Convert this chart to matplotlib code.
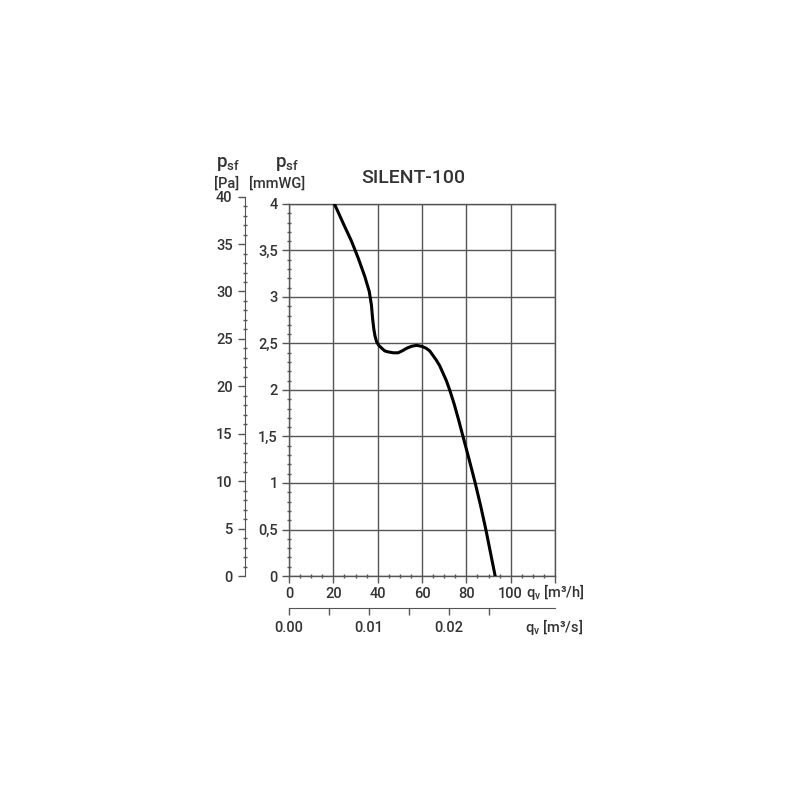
import matplotlib
matplotlib.use("Agg")
import matplotlib.pyplot as plt
from matplotlib.ticker import MultipleLocator, FuncFormatter

# SILENT-100 fan curve: airflow q_v [m3/h] vs static pressure p_sf [mmWG]
q_m3h = [20.7, 24.5, 28.2, 31.2, 34.2, 36.2, 37.2, 37.7, 38.3, 38.8, 39.5,
         40.5, 41.8, 43.2, 44.7, 47.0, 49.2, 51.0, 53.2, 55.3, 57.5, 59.8,
         61.8, 63.5, 65.0, 66.5, 68.0, 69.5, 71.0, 72.5, 74.5, 76.5, 78.5,
         81.3, 84.0, 86.5, 88.8, 90.9, 93.0]
p_mmwg = [3.99, 3.79, 3.60, 3.42, 3.22, 3.06, 2.91, 2.77, 2.65, 2.58, 2.52,
          2.48, 2.45, 2.42, 2.41, 2.40, 2.40, 2.42, 2.45, 2.47, 2.48, 2.47,
          2.45, 2.42, 2.37, 2.32, 2.26, 2.18, 2.10, 2.00, 1.85, 1.68, 1.50,
          1.25, 1.00, 0.75, 0.50, 0.25, 0.00]

x_major = [0, 20, 40, 60, 80, 100]
qs_ticks = [0.0, 0.005, 0.01, 0.015, 0.02, 0.025]
qs_labels = {0.0: "0.00", 0.01: "0.01", 0.02: "0.02"}

TXT = "#333333"
GRID = "#555555"
PA_PER_MMWG = 9.80665
FS = 10.5
plt.rcParams["font.family"] = ["Roboto", "DejaVu Sans"]
plt.rcParams["font.weight"] = "medium"
plt.rcParams["mathtext.default"] = "regular"

fig = plt.figure(figsize=(8, 8), dpi=100)

# main grid axes (mmWG)
ax = fig.add_axes([289 / 800, 1 - 576 / 800, 266 / 800, 372 / 800])
ax.plot(q_m3h, p_mmwg, color="black", lw=2.2, solid_joinstyle="round",
        zorder=3)
ax.set_xlim(0, 120)
ax.set_ylim(0, 4)
ax.xaxis.set_major_locator(MultipleLocator(20))
ax.xaxis.set_minor_locator(MultipleLocator(5))
ax.yaxis.set_major_locator(MultipleLocator(0.5))
ax.yaxis.set_minor_locator(MultipleLocator(0.1))
ax.grid(True, which="major", color=GRID, lw=1.0)
for s in ax.spines.values():
    s.set_color(GRID)
    s.set_linewidth(1.0)
ax.xaxis.set_major_formatter(FuncFormatter(
    lambda v, p: f"{v:.0f}" if v in x_major else ""))
ax.yaxis.set_major_formatter(FuncFormatter(
    lambda v, p: f"{v:g}".replace(".", ",")))
ax.tick_params(which="major", length=5, width=1.0, color=GRID,
               labelsize=FS, labelcolor=TXT, pad=3)
ax.tick_params(which="minor", length=3, width=1.0, color=GRID,
               direction="inout")
ax.set_axisbelow(True)
fig.text(526 / 800, 1 - 592 / 800, r"q$_{v}$ [m³/h]",
         ha="left", va="center", fontsize=FS, color=TXT)

# Pa axis, offset to the left
pa_h = 40 / PA_PER_MMWG * 93
axp = fig.add_axes([245 / 800, 1 - 576 / 800, 0.001, pa_h / 800])
axp.set_ylim(0, 40)
axp.patch.set_visible(False)
for k in ("top", "right", "bottom"):
    axp.spines[k].set_visible(False)
axp.spines["left"].set_color(GRID)
axp.set_xticks([])
axp.yaxis.set_major_locator(MultipleLocator(5))
axp.yaxis.set_minor_locator(MultipleLocator(1))
axp.tick_params(which="major", length=5, width=1.0, color=GRID,
                labelsize=FS, labelcolor=TXT, pad=4)
axp.tick_params(which="minor", length=3, width=1.0, color=GRID,
                direction="inout")

# m3/s axis below
axs = fig.add_axes([289 / 800, 1 - 608 / 800, 266 / 800, 0.001])
axs.set_xlim(0, 120 / 3600)
axs.patch.set_visible(False)
for k in ("top", "right", "left"):
    axs.spines[k].set_visible(False)
axs.spines["bottom"].set_color(GRID)
axs.set_yticks([])
axs.set_xticks(qs_ticks)
axs.set_xticklabels([qs_labels.get(t, "") for t in qs_ticks])
axs.tick_params(length=5, width=1.0, color=GRID, labelsize=FS,
                labelcolor=TXT, pad=4)
fig.text(583 / 800, 1 - 627 / 800, r"q$_{v}$ [m³/s]",
         ha="right", va="center", fontsize=FS, color=TXT)

# headers
fig.text(228 / 800, 1 - 164 / 800, r"p$_{sf}$", ha="center",
         va="center", fontsize=13.5, color=TXT)
fig.text(227 / 800, 1 - 183 / 800, "[Pa]", ha="center", va="center",
         fontsize=FS, color=TXT)
fig.text(287 / 800, 1 - 164 / 800, r"p$_{sf}$", ha="center",
         va="center", fontsize=13.5, color=TXT)
fig.text(277 / 800, 1 - 183 / 800, "[mmWG]", ha="center", va="center",
         fontsize=FS, color=TXT)
fig.text(413 / 800, 1 - 178 / 800, "SILENT-100", ha="center", va="center",
         fontsize=14, color=TXT)

fig.savefig("out.png", dpi=100)
